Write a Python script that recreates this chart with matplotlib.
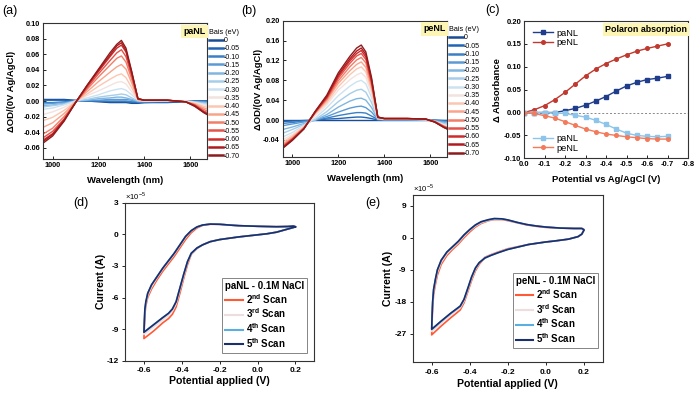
import matplotlib.pyplot as plt
import numpy as np

plt.rcParams['font.family'] = ['Liberation Sans', 'DejaVu Sans']
plt.rcParams['axes.unicode_minus'] = False
plt.rcParams['mathtext.fontset'] = 'custom'
plt.rcParams['mathtext.rm'] = 'Liberation Sans'
plt.rcParams['mathtext.bf'] = 'Liberation Sans:bold'

# ---- data: spectroelectrochemistry (a), (b) ----
wavelength = [950, 1000, 1050, 1100, 1150, 1200, 1250, 1280, 1300, 1320, 1345, 1372,
              1400, 1500, 1580, 1620, 1660, 1700]
bias_labels = ['0', '-0.05', '-0.10', '-0.15', '-0.20', '-0.25', '-0.30', '-0.35',
               '-0.40', '-0.45', '-0.50', '-0.55', '-0.60', '-0.65', '-0.70']
bias_colors = ['#1a4b95', '#1f65b5', '#3a80c5', '#5b9bd5', '#80b6e0', '#a6cde9', '#cde2f1',
               '#f3e3df', '#fcc7b2', '#f9a48a', '#f27d68', '#e5524a', '#d12a2a', '#b01a1f', '#8c1c1c']

pa_spectra = [
    [0.002, 0.002, 0.002, 0.001, 0.000, -0.001, -0.002, -0.002, -0.002, -0.002, -0.003, -0.003, -0.002, -0.002, -0.001, 0.000, 0.000, 0.000],
    [0.001, 0.001, 0.001, 0.000, 0.000, 0.000, -0.001, -0.001, -0.001, -0.001, -0.002, -0.002, -0.002, -0.001, -0.001, 0.000, 0.000, 0.000],
    [-0.002, -0.002, -0.001, 0.000, 0.000, 0.000, 0.000, 0.000, 0.000, 0.000, -0.001, -0.001, -0.001, -0.001, 0.000, 0.000, -0.001, -0.001],
    [-0.004, -0.003, -0.002, 0.000, 0.001, 0.001, 0.002, 0.002, 0.002, 0.002, 0.001, -0.001, -0.001, 0.000, 0.000, -0.001, -0.001, -0.002],
    [-0.006, -0.005, -0.003, 0.000, 0.001, 0.003, 0.004, 0.005, 0.005, 0.004, 0.002, 0.000, 0.000, 0.000, 0.000, -0.001, -0.002, -0.003],
    [-0.008, -0.006, -0.004, 0.000, 0.002, 0.005, 0.007, 0.008, 0.009, 0.008, 0.004, 0.000, 0.000, 0.000, 0.000, -0.001, -0.003, -0.004],
    [-0.011, -0.009, -0.005, 0.000, 0.004, 0.008, 0.013, 0.015, 0.016, 0.014, 0.008, 0.001, 0.000, 0.000, 0.000, -0.002, -0.004, -0.005],
    [-0.018, -0.014, -0.008, -0.001, 0.007, 0.013, 0.020, 0.024, 0.025, 0.022, 0.012, 0.001, 0.000, 0.001, 0.000, -0.002, -0.005, -0.007],
    [-0.026, -0.021, -0.012, -0.001, 0.009, 0.019, 0.028, 0.033, 0.035, 0.030, 0.017, 0.001, 0.001, 0.001, -0.001, -0.003, -0.007, -0.010],
    [-0.035, -0.028, -0.016, -0.001, 0.012, 0.025, 0.037, 0.044, 0.047, 0.041, 0.023, 0.002, 0.001, 0.001, -0.001, -0.004, -0.009, -0.013],
    [-0.044, -0.035, -0.020, -0.002, 0.015, 0.031, 0.046, 0.055, 0.058, 0.050, 0.028, 0.002, 0.001, 0.001, -0.001, -0.005, -0.011, -0.016],
    [-0.049, -0.039, -0.023, -0.002, 0.017, 0.035, 0.052, 0.062, 0.066, 0.057, 0.032, 0.003, 0.001, 0.001, -0.001, -0.005, -0.013, -0.018],
    [-0.052, -0.042, -0.024, -0.002, 0.019, 0.038, 0.057, 0.068, 0.072, 0.063, 0.035, 0.003, 0.001, 0.001, -0.001, -0.006, -0.014, -0.020],
    [-0.054, -0.043, -0.025, -0.002, 0.020, 0.040, 0.059, 0.071, 0.075, 0.065, 0.037, 0.003, 0.001, 0.001, -0.001, -0.006, -0.015, -0.021],
    [-0.056, -0.045, -0.026, -0.002, 0.020, 0.041, 0.062, 0.073, 0.078, 0.068, 0.038, 0.003, 0.001, 0.001, -0.001, -0.007, -0.015, -0.022],
]

pe_spectra = [
    [0.000] * 18,
    [-0.003, -0.002, -0.001, 0.000, 0.002, 0.003, 0.005, 0.006, 0.006, 0.005, 0.003, 0.000, 0.000, 0.000, 0.000, 0.000, -0.001, -0.001],
    [-0.007, -0.005, -0.002, 0.000, 0.004, 0.009, 0.013, 0.015, 0.015, 0.014, 0.008, 0.001, 0.000, 0.000, 0.000, -0.001, -0.002, -0.003],
    [-0.012, -0.008, -0.004, 0.000, 0.007, 0.016, 0.024, 0.027, 0.028, 0.025, 0.016, 0.001, 0.001, 0.001, 0.000, -0.001, -0.003, -0.005],
    [-0.020, -0.014, -0.007, 0.000, 0.011, 0.026, 0.038, 0.043, 0.044, 0.040, 0.025, 0.002, 0.001, 0.001, 0.000, -0.002, -0.005, -0.008],
    [-0.028, -0.019, -0.009, 0.001, 0.017, 0.037, 0.053, 0.060, 0.062, 0.056, 0.035, 0.002, 0.001, 0.001, 0.001, -0.002, -0.007, -0.011],
    [-0.036, -0.025, -0.011, 0.004, 0.025, 0.049, 0.068, 0.077, 0.080, 0.073, 0.045, 0.003, 0.002, 0.002, 0.001, -0.003, -0.009, -0.014],
    [-0.042, -0.029, -0.013, 0.009, 0.031, 0.060, 0.081, 0.091, 0.095, 0.086, 0.053, 0.004, 0.002, 0.002, 0.001, -0.003, -0.010, -0.016],
    [-0.047, -0.032, -0.014, 0.013, 0.035, 0.067, 0.091, 0.103, 0.107, 0.097, 0.060, 0.004, 0.002, 0.002, 0.001, -0.004, -0.012, -0.018],
    [-0.051, -0.035, -0.015, 0.014, 0.039, 0.074, 0.099, 0.112, 0.117, 0.106, 0.066, 0.005, 0.003, 0.003, 0.002, -0.003, -0.012, -0.019],
    [-0.054, -0.037, -0.016, 0.015, 0.042, 0.079, 0.107, 0.121, 0.126, 0.115, 0.071, 0.005, 0.003, 0.003, 0.002, -0.003, -0.013, -0.020],
    [-0.056, -0.038, -0.017, 0.016, 0.044, 0.084, 0.114, 0.129, 0.134, 0.122, 0.075, 0.005, 0.003, 0.003, 0.002, -0.003, -0.013, -0.021],
    [-0.058, -0.039, -0.017, 0.017, 0.046, 0.088, 0.119, 0.134, 0.140, 0.127, 0.078, 0.006, 0.003, 0.003, 0.002, -0.004, -0.014, -0.022],
    [-0.059, -0.040, -0.018, 0.017, 0.048, 0.091, 0.123, 0.139, 0.145, 0.132, 0.081, 0.006, 0.003, 0.003, 0.002, -0.004, -0.015, -0.023],
    [-0.060, -0.041, -0.018, 0.018, 0.050, 0.095, 0.128, 0.145, 0.151, 0.137, 0.085, 0.006, 0.003, 0.003, 0.002, -0.004, -0.015, -0.024],
]

# ---- data: polaron absorption (c) ----
potential = [0.0, -0.05, -0.10, -0.15, -0.20, -0.25, -0.30, -0.35, -0.40, -0.45, -0.50, -0.55, -0.60, -0.65, -0.70]
pa_polaron = [0.0, 0.0, 0.0, 0.0, 0.004, 0.009, 0.016, 0.025, 0.035, 0.047, 0.058, 0.066, 0.072, 0.075, 0.079]
pe_polaron = [0.0, 0.006, 0.015, 0.028, 0.044, 0.062, 0.080, 0.095, 0.107, 0.117, 0.126, 0.134, 0.140, 0.145, 0.150]
pa_bleach = [0.0, 0.0, 0.0, -0.001, -0.002, -0.006, -0.010, -0.017, -0.026, -0.036, -0.045, -0.050, -0.052, -0.053, -0.052]
pe_bleach = [0.0, -0.002, -0.007, -0.012, -0.020, -0.028, -0.036, -0.042, -0.047, -0.050, -0.053, -0.055, -0.057, -0.058, -0.058]

# ---- data: cyclic voltammetry (d), (e), current in 1e-5 A ----
scan_labels = [r'2$^{\mathbf{nd}}$ Scan', r'3$^{\mathbf{rd}}$ Scan', r'4$^{\mathbf{th}}$ Scan', r'5$^{\mathbf{th}}$ Scan']
scan_colors = ['#ff5a36', '#efdcdc', '#5aaee0', '#1b2f6e']

cv_d_v = [0.2, 0.15, 0.1, 0.05, 0.0, -0.1, -0.2, -0.25, -0.29, -0.32, -0.35, -0.37, -0.39, -0.41, -0.43, -0.45, -0.47, -0.5, -0.55, -0.6,
          -0.598, -0.595, -0.59, -0.58, -0.56, -0.53, -0.5, -0.47, -0.44, -0.41, -0.38, -0.35, -0.32, -0.29, -0.25, -0.2, -0.15, -0.1, 0.0, 0.1, 0.16, 0.19, 0.2]
cv_d_scan2 = [0.70, 0.45, 0.20, 0.05, -0.05, -0.25, -0.50, -0.70, -1.0, -1.35, -1.9, -2.9, -4.2, -5.6, -6.9, -7.6, -8.0, -8.4, -9.2, -9.9,
              -8.9, -7.6, -6.8, -6.0, -5.2, -4.3, -3.5, -2.8, -2.1, -1.3, -0.5, 0.15, 0.6, 0.85, 0.95, 0.95, 0.88, 0.82, 0.76, 0.72, 0.74, 0.78, 0.72]
cv_d_scan3 = [0.70, 0.45, 0.20, 0.05, -0.05, -0.25, -0.50, -0.70, -1.0, -1.3, -1.85, -2.7, -4.0, -5.3, -6.6, -7.3, -7.7, -8.1, -8.8, -9.5,
              -8.6, -7.4, -6.6, -5.8, -5.0, -4.1, -3.3, -2.6, -1.9, -1.1, -0.3, 0.3, 0.68, 0.88, 0.97, 0.95, 0.88, 0.82, 0.76, 0.72, 0.74, 0.78, 0.72]
cv_d_scan4 = [0.70, 0.45, 0.20, 0.05, -0.05, -0.25, -0.50, -0.70, -1.0, -1.3, -1.8, -2.6, -3.8, -5.1, -6.4, -7.1, -7.5, -7.9, -8.6, -9.3,
              -8.4, -7.2, -6.5, -5.6, -4.8, -4.0, -3.2, -2.5, -1.8, -1.0, -0.2, 0.35, 0.7, 0.88, 0.97, 0.95, 0.88, 0.82, 0.76, 0.72, 0.74, 0.78, 0.72]
cv_d_scan5 = [0.70, 0.45, 0.20, 0.05, -0.05, -0.25, -0.50, -0.70, -1.0, -1.3, -1.8, -2.6, -3.8, -5.1, -6.4, -7.1, -7.5, -7.9, -8.6, -9.3,
              -8.4, -7.1, -6.4, -5.6, -4.8, -4.0, -3.2, -2.5, -1.8, -1.0, -0.2, 0.35, 0.7, 0.88, 0.97, 0.95, 0.88, 0.82, 0.76, 0.72, 0.74, 0.78, 0.72]

cv_e_v = [0.2, 0.19, 0.17, 0.12, 0.05, 0.0, -0.09, -0.2, -0.25, -0.29, -0.32, -0.35, -0.37, -0.39, -0.41, -0.43, -0.45, -0.47, -0.5, -0.55, -0.6,
          -0.598, -0.595, -0.59, -0.58, -0.57, -0.55, -0.52, -0.49, -0.46, -0.43, -0.40, -0.37, -0.34, -0.30, -0.27, -0.23, -0.2, -0.15, -0.1, -0.05, 0.0, 0.08, 0.15, 0.19, 0.2]
cv_e_scan2 = [2.0, 1.0, 0.3, -0.4, -0.9, -1.2, -1.9, -3.1, -4.0, -4.8, -5.5, -7.5, -9.3, -12.0, -15.2, -18.3, -20.3, -21.2, -22.5, -24.8, -27.3,
              -23.5, -19.5, -16.0, -13.0, -10.5, -7.5, -5.0, -3.3, -1.8, 0.0, 1.6, 3.0, 4.0, 4.8, 5.1, 5.1, 4.8, 4.2, 3.6, 3.2, 2.9, 2.7, 2.6, 2.6, 2.3]
cv_e_scan3 = [2.0, 1.0, 0.3, -0.4, -0.9, -1.2, -1.9, -3.2, -4.1, -4.9, -5.6, -7.2, -8.9, -11.5, -14.7, -17.8, -19.7, -20.5, -21.7, -24.0, -26.3,
              -22.7, -18.7, -15.2, -12.2, -9.7, -6.9, -4.5, -2.9, -1.4, 0.4, 2.0, 3.3, 4.2, 4.9, 5.2, 5.2, 4.9, 4.2, 3.7, 3.3, 3.0, 2.7, 2.6, 2.6, 2.3]
cv_e_scan4 = [2.0, 1.0, 0.3, -0.4, -0.9, -1.2, -1.9, -3.3, -4.2, -5.0, -5.7, -7.0, -8.6, -11.1, -14.3, -17.4, -19.3, -20.1, -21.3, -23.5, -25.8,
              -22.1, -18.1, -14.6, -11.6, -9.1, -6.4, -4.1, -2.6, -1.1, 0.7, 2.2, 3.5, 4.4, 5.0, 5.3, 5.3, 5.0, 4.3, 3.7, 3.3, 3.0, 2.7, 2.6, 2.6, 2.3]
cv_e_scan5 = [2.0, 1.0, 0.3, -0.4, -0.9, -1.2, -1.9, -3.3, -4.2, -5.0, -5.7, -7.0, -8.5, -11.0, -14.2, -17.3, -19.2, -20.0, -21.2, -23.4, -25.7,
              -22.0, -18.0, -14.5, -11.5, -9.0, -6.3, -4.0, -2.5, -1.0, 0.8, 2.3, 3.6, 4.5, 5.1, 5.4, 5.3, 5.0, 4.3, 3.7, 3.3, 3.0, 2.7, 2.6, 2.6, 2.3]

W, H = 696, 393
fig = plt.figure(figsize=(W / 100, H / 100), dpi=100)


def add_ax(l, t, r, b):
    return fig.add_axes([l / W, 1 - b / H, (r - l) / W, (b - t) / H])


def style(ax, direction='in', size=5.3):
    ax.tick_params(direction=direction, length=2.5, width=0.6, labelsize=size, pad=2)
    for lab in ax.get_xticklabels() + ax.get_yticklabels():
        lab.set_fontweight('bold')
    for s in ax.spines.values():
        s.set_linewidth(0.8)
        s.set_color('#333333')


def tag(ax, text, x, y):
    ax.text(x, y, text, transform=ax.transAxes, ha='right', va='center', fontsize=6.4,
            fontweight='bold', bbox=dict(boxstyle='square,pad=0.25', fc='#fdf5b3', ec='none'))


# ---- (a) and (b) spectra ----
for spectra, box, ylim, yticks, name, lx, ylx in [
        (pa_spectra, (43, 23.3, 206.7, 159.3), (-0.075, 0.10), [-0.06, -0.04, -0.02, 0.0, 0.02, 0.04, 0.06, 0.08, 0.10], 'paNL', 2, -0.165),
        (pe_spectra, (282.7, 20.7, 446.7, 157.3), (-0.075, 0.20), [-0.04, 0.0, 0.04, 0.08, 0.12, 0.16, 0.20], 'peNL', 241, -0.118)]:
    ax = add_ax(*box)
    for row, col, lab in zip(spectra, bias_colors, bias_labels):
        ax.plot(wavelength, row, color=col, lw=1.0, label=lab)
    ax.set_xlim(958, 1672)
    ax.set_ylim(*ylim)
    ax.set_xticks([1000, 1200, 1400, 1600])
    ax.set_yticks(yticks)
    ax.set_yticklabels([f'{v:.2f}' for v in yticks])
    style(ax)
    ax.set_xlabel('Wavelength (nm)', fontsize=6.8, fontweight='bold')
    ax.set_ylabel('ΔOD/(0V Ag/AgCl)', fontsize=6.8, fontweight='bold')
    ax.xaxis.set_label_coords(0.5, -0.12)
    ax.yaxis.set_label_coords(ylx, 0.5)
    tag(ax, name, 0.995, 0.94)
    leg = ax.legend(loc='upper left', bbox_to_anchor=(1.0, 0.975), frameon=False, fontsize=5,
                    title='Bais (eV)', title_fontsize=5.2, alignment='left', borderpad=0.2,
                    labelspacing=0.18, handlelength=2.0, handletextpad=0.15, borderaxespad=0.1)
    for ln in leg.get_lines():
        ln.set_linewidth(1.8)
    fig.text(lx / W, 1 - 11 / H, '(' + ('a' if name == 'paNL' else 'b') + ')', fontsize=9, va='center')

# ---- (c) polaron absorption ----
axc = add_ax(524, 21, 688, 158.3)
axc.axhline(0, color='#888888', lw=0.7, ls=(0, (2, 2)))
l1, = axc.plot(potential, pa_polaron, color='#1f3d8a', marker='s', ms=2.6, lw=1.0, label='paNL')
l2, = axc.plot(potential, pe_polaron, color='#c0392f', marker='o', ms=2.6, lw=1.0, label='peNL')
l3, = axc.plot(potential, pa_bleach, color='#8cc4ea', marker='s', ms=2.6, lw=1.0, label='paNL')
l4, = axc.plot(potential, pe_bleach, color='#f47a5a', marker='o', ms=2.6, lw=1.0, label='peNL')
axc.set_xlim(0, -0.8)
axc.set_ylim(-0.10, 0.20)
axc.set_xticks([0.0, -0.1, -0.2, -0.3, -0.4, -0.5, -0.6, -0.7, -0.8])
axc.set_xticklabels([f'{v:.1f}' for v in [0.0, -0.1, -0.2, -0.3, -0.4, -0.5, -0.6, -0.7, -0.8]])
axc.set_yticks([-0.10, -0.05, 0.0, 0.05, 0.10, 0.15, 0.20])
axc.set_yticklabels([f'{v:.2f}' for v in [-0.10, -0.05, 0.0, 0.05, 0.10, 0.15, 0.20]])
style(axc, size=5.5)
axc.set_xlabel('Potential vs Ag/AgCl (V)', fontsize=6.8, fontweight='bold')
axc.set_ylabel('Δ Absorbance', fontsize=6.8, fontweight='bold')
axc.xaxis.set_label_coords(0.5, -0.12)
axc.yaxis.set_label_coords(-0.135, 0.5)
leg1 = axc.legend(handles=[l1, l2], loc='upper left', bbox_to_anchor=(0.02, 0.985), frameon=False,
                  fontsize=6.7, labelspacing=0.05, handlelength=2.2, handletextpad=0.35, borderpad=0.1)
axc.add_artist(leg1)
axc.legend(handles=[l3, l4], loc='lower left', bbox_to_anchor=(0.02, 0.0), frameon=False,
           fontsize=6.7, labelspacing=0.05, handlelength=2.2, handletextpad=0.35, borderpad=0.1)
tag(axc, 'Polaron absorption', 0.993, 0.94)
fig.text(485 / W, 1 - 10 / H, '(c)', fontsize=9, va='center')

# ---- (d) and (e) cyclic voltammetry ----
for v, scans, box, ylim, yticks, title, lx, ylx, lgx, lgy in [
        (cv_d_v, [cv_d_scan2, cv_d_scan3, cv_d_scan4, cv_d_scan5], (125, 202.7, 314.3, 360.7), (-12, 3),
         [-12, -9, -6, -3, 0, 3], 'paNL - 0.1M NaCl', 73, -0.10, 0.963, 0.05),
        (cv_e_v, [cv_e_scan2, cv_e_scan3, cv_e_scan4, cv_e_scan5], (412.7, 195, 602.7, 362.3), (-35, 12),
         [-27, -18, -9, 0, 9], 'peNL - 0.1M NaCl', 365, -0.104, 0.975, 0.085)]:
    ax = add_ax(*box)
    for cur, col, lab in zip(scans, scan_colors, scan_labels):
        ax.plot(v, cur, color=col, lw=1.2, label=lab)
    ax.set_xlim(-0.7, 0.3)
    ax.set_ylim(*ylim)
    ax.set_xticks([-0.6, -0.4, -0.2, 0.0, 0.2])
    ax.set_xticklabels(['-0.6', '-0.4', '-0.2', '0.0', '0.2'])
    ax.set_yticks(yticks)
    style(ax, direction='out', size=6)
    ax.set_xlabel('Potential applied (V)', fontsize=7.6, fontweight='bold')
    ax.set_ylabel('Current (A)', fontsize=7.6, fontweight='bold')
    ax.xaxis.set_label_coords(0.5, -0.1)
    ax.yaxis.set_label_coords(ylx, 0.5)
    ax.text(0.0, 1.005, r'×10$^{-5}$', transform=ax.transAxes, fontsize=5.5, ha='left', va='bottom')
    leg = ax.legend(loc='lower right', bbox_to_anchor=(lgx, lgy), title=title,
                    title_fontproperties={'weight': 'bold', 'size': 7}, alignment='left',
                    prop={'weight': 'bold', 'size': 7}, fancybox=False, edgecolor='#666666',
                    labelspacing=0.1, handlelength=1.8, handletextpad=0.3, borderpad=0.3, borderaxespad=0)
    leg.get_frame().set_linewidth(0.7)
    for ln in leg.get_lines():
        ln.set_linewidth(1.5)
    fig.text(lx / W, 1 - 203 / H, '(d)' if title.startswith('pa') else '(e)', fontsize=9, va='center')

fig.savefig('out.png', dpi=100)
